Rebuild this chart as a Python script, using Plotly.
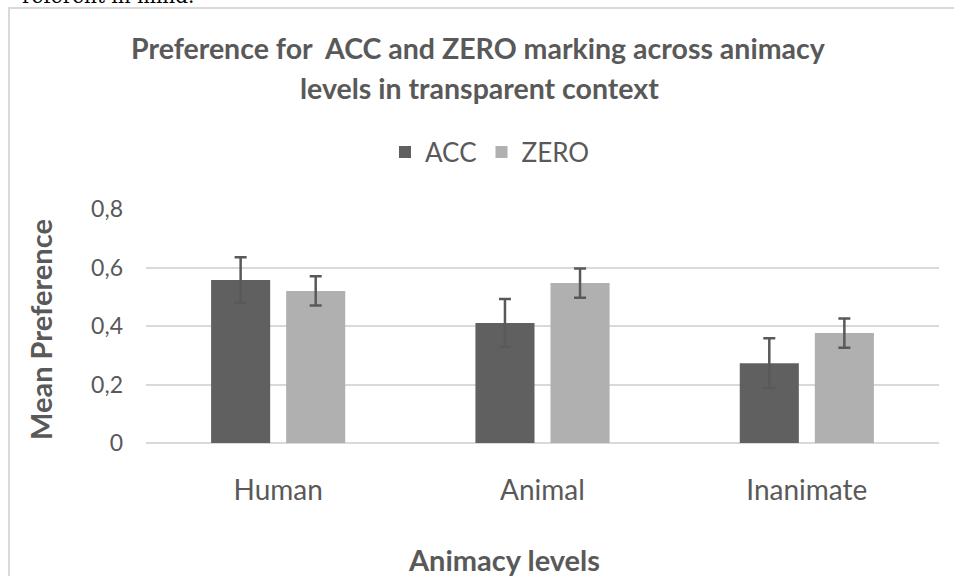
import plotly.graph_objects as go

categories = ["Human", "Animal", "Inanimate"]
acc_values = [0.557, 0.41, 0.273]
acc_errors = [0.078, 0.082, 0.085]
zero_values = [0.52, 0.547, 0.376]
zero_errors = [0.05, 0.05, 0.05]
series_names = ["ACC", "ZERO"]

W, H = 954, 576
L, R, T, B = 146, 939, 209, 443

def px(x):
    return (x - L) / (R - L)

def py(y):
    return (B - y) / (B - T)

FONT = "Lato, Calibri, Arial, sans-serif"
TXT = "#595959"

fig = go.Figure()
fig.add_trace(go.Bar(
    name=series_names[0], x=categories, y=acc_values,
    marker=dict(color="#606060", line=dict(width=0)),
    error_y=dict(type="data", array=acc_errors, color="#595959", thickness=2.5, width=6),
))
fig.add_trace(go.Bar(
    name=series_names[1], x=categories, y=zero_values,
    marker=dict(color="#b0b0b0", line=dict(width=0)),
    error_y=dict(type="data", array=zero_errors, color="#595959", thickness=2.5, width=6),
))

fig.update_layout(
    width=W, height=H,
    margin=dict(l=L, r=W - R, t=T, b=H - B, pad=0),
    paper_bgcolor="white", plot_bgcolor="white",
    separators=",.",
    barmode="group", bargap=0.432, bargroupgap=0.213,
    font=dict(family=FONT, color=TXT),
    showlegend=True,
    legend=dict(orientation="h", x=px(490), xanchor="center", y=py(152), yanchor="middle",
                font=dict(size=26, color=TXT), itemwidth=30, traceorder="normal",
                bgcolor="rgba(0,0,0,0)"),
    xaxis=dict(showgrid=False, zeroline=False, showline=False, ticks="",
               tickfont=dict(size=28, color=TXT), ticklabelstandoff=28),
    yaxis=dict(range=[0, 0.8], showgrid=True, gridcolor="#d9d9d9", gridwidth=1.5,
               zeroline=True, zerolinecolor="#d9d9d9", zerolinewidth=1.5,
               showline=False, ticks="", ticklabelstandoff=22,
               tickfont=dict(size=23, color=TXT)),
)
fig.update_yaxes(tickvals=[0, 0.2, 0.4, 0.6, 0.8], ticktext=["0", "0,2", "0,4", "0,6", "0,8"])

# chart border
fig.add_shape(type="rect", xref="paper", yref="paper",
              x0=px(9), x1=px(1000), y0=py(8), y1=py(620),
              line=dict(color="#d9d9d9", width=2), fillcolor="rgba(0,0,0,0)", layer="below")

# cut-off text above the chart
fig.add_annotation(text="referent in mind.", xref="paper", yref="paper",
                   x=px(20), y=py(10), xanchor="left", yanchor="bottom", showarrow=False,
                   font=dict(family="DejaVu Serif, serif", size=20, color="black"))

# title
fig.add_annotation(text="<b>Preference for&nbsp; ACC and ZERO marking across animacy</b>",
                   xref="paper", yref="paper", x=px(478), y=py(48),
                   xanchor="center", yanchor="middle", showarrow=False,
                   font=dict(size=28.5, color=TXT, family=FONT))
fig.add_annotation(text="<b>levels in transparent context</b>",
                   xref="paper", yref="paper", x=px(479), y=py(88),
                   xanchor="center", yanchor="middle", showarrow=False,
                   font=dict(size=28.5, color=TXT, family=FONT))

# axis titles
fig.add_annotation(text="<b>Animacy levels</b>", xref="paper", yref="paper",
                   x=px(504), y=py(559), xanchor="center", yanchor="middle", showarrow=False,
                   font=dict(size=29, color=TXT, family=FONT))
fig.add_annotation(text="<b>Mean Preference</b>", xref="paper", yref="paper",
                   x=px(40), y=py(330), xanchor="center", yanchor="middle", showarrow=False,
                   textangle=-90, font=dict(size=29, color=TXT, family=FONT))

fig.write_html("out.html", config={"displayModeBar": False},
               post_script="document.body.style.margin='0';document.body.style.overflow='hidden';")
